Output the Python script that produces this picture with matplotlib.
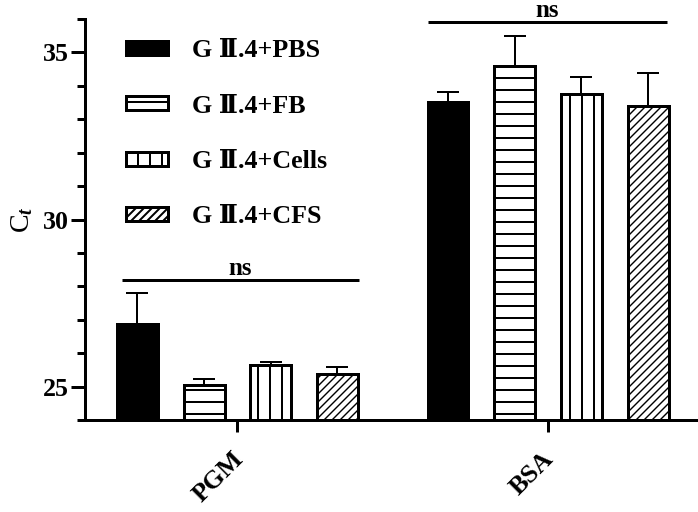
import matplotlib
matplotlib.use("Agg")
import matplotlib.pyplot as plt
from matplotlib.ticker import MultipleLocator
import numpy as np

plt.rcParams['font.family'] = ['Liberation Serif', 'DejaVu Serif']
plt.rcParams['font.weight'] = 'bold'
plt.rcParams['mathtext.fontset'] = 'custom'
plt.rcParams['mathtext.rm'] = 'Liberation Serif:bold'
plt.rcParams['mathtext.it'] = 'Liberation Serif:bold:italic'
plt.rcParams['hatch.linewidth'] = 2.0

groups = ["PGM", "BSA"]
series = ["G Ⅱ.4+PBS", "G Ⅱ.4+FB", "G Ⅱ.4+Cells", "G Ⅱ.4+CFS"]
means = {
    "G Ⅱ.4+PBS":   [26.86, 33.52],
    "G Ⅱ.4+FB":    [25.05, 34.60],
    "G Ⅱ.4+Cells": [25.65, 33.76],
    "G Ⅱ.4+CFS":   [25.38, 33.40],
}
errs = {
    "G Ⅱ.4+PBS":   [0.93, 0.30],
    "G Ⅱ.4+FB":    [0.18, 0.90],
    "G Ⅱ.4+Cells": [0.09, 0.49],
    "G Ⅱ.4+CFS":   [0.20, 0.99],
}
colors = ["black", "white", "white", "white"]
hatches = [None, "-", "|", "///"]
sig_labels = ["ns", "ns"]
sig_heights = [28.18, 35.9]

fig = plt.figure(figsize=(698/72, 512/72), dpi=72)
ax = fig.add_axes([85/698, 1-420/512, 1-85/698, (420-19)/512])

x = np.arange(len(groups))
step = 0.2147
width = 0.132
for i, s in enumerate(series):
    pos = x + (i - 1.5) * step
    bars = ax.bar(pos, means[s], width=width, bottom=0, color=colors[i], edgecolor="black",
                  linewidth=3, hatch=hatches[i], label=s, zorder=2)
    if hatches[i] == "///":
        for b in bars:
            try:
                b.set_hatch_linewidth(1.4)
            except Exception:
                pass
    ax.errorbar(pos, means[s], yerr=[np.zeros(len(groups)), errs[s]], fmt="none",
                ecolor="black", elinewidth=2, capsize=11, capthick=2, zorder=1)

ax.set_ylim(24, 36)
ax.set_xlim(-0.491, 1.483)
ax.set_yticks([25, 30, 35])
ax.yaxis.set_minor_locator(MultipleLocator(1))
ax.set_xticks(x)
ax.set_xticklabels([])
for xi, g in zip(x, groups):
    ax.annotate(g, xy=(xi, 0), xycoords=("data", "axes fraction"), xytext=(-6, -27),
                textcoords="offset points", rotation=45, ha="right", va="top",
                rotation_mode="anchor", fontsize=26, annotation_clip=False)
ax.tick_params(axis="y", which="major", length=14, width=3, labelsize=26, pad=2)
ax.tick_params(axis="y", which="minor", length=8, width=3)
ax.tick_params(axis="x", which="major", length=12, width=3)
for sp in ["top", "right"]:
    ax.spines[sp].set_visible(False)
for sp in ["left", "bottom"]:
    ax.spines[sp].set_linewidth(3)
ax.set_ylabel("C$_{t}$", fontsize=28, labelpad=8)

spans = [(-0.372, 0.391), (0.613, 1.383)]
for (a, b), h, lab in zip(spans, sig_heights, sig_labels):
    ax.plot([a, b], [h, h], color="black", lw=3, clip_on=False, solid_capstyle="butt")
    ax.annotate(lab, xy=((a + b) / 2, h), xytext=(0, 0), textcoords="offset points",
                ha="center", va="bottom", fontsize=25, annotation_clip=False)

leg = ax.legend(loc="upper left", bbox_to_anchor=(0.05, 0.975), frameon=False, fontsize=26,
                handlelength=1.6, handleheight=0.45, labelspacing=1.24, handletextpad=0.95,
                borderaxespad=0)

fig.savefig("out.png", dpi=72)
